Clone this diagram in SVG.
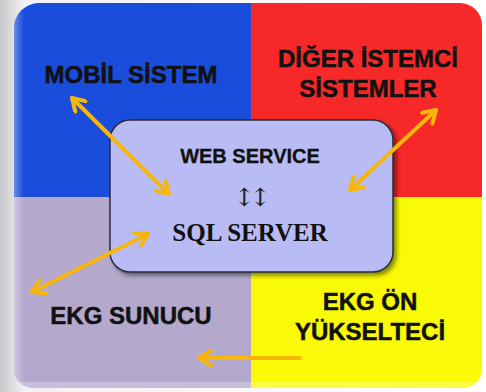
<svg xmlns="http://www.w3.org/2000/svg" width="486" height="392" viewBox="0 0 486 392">
  <style>
    .lbl { font-family: "Liberation Sans", Arial, sans-serif; font-weight: bold; font-size: 24px; fill: #111; stroke: #111; stroke-width: 0.5; text-anchor: middle; }
    .ctr { font-family: "Liberation Sans", Arial, sans-serif; font-weight: bold; font-size: 20px; fill: #111; stroke: #111; stroke-width: 0.3; text-anchor: middle; }
    .srv { font-family: "Liberation Serif", "Times New Roman", serif; font-weight: bold; font-size: 25px; fill: #111; text-anchor: middle; }
    .arr { font-family: "DejaVu Serif", serif; font-size: 25px; fill: #222; text-anchor: middle; }
    .conn { stroke: #f7b60c; stroke-width: 4; fill: none; stroke-linecap: round; }
  </style>
  <defs>
    <clipPath id="outer">
      <path d="M14,28 A25,25 0 0 1 39,3 L460,3 A22,22 0 0 1 482,25 L482,369 A19,19 0 0 1 463,388 L33,388 A19,19 0 0 1 14,369 Z"/>
    </clipPath>
    <linearGradient id="bg" x1="0" y1="0" x2="1" y2="0">
      <stop offset="0" stop-color="#c8c8cc"/>
      <stop offset="0.05" stop-color="#f2f2f4"/>
      <stop offset="1" stop-color="#ffffff"/>
    </linearGradient>
    <linearGradient id="edgeL" x1="0" y1="0" x2="1" y2="0">
      <stop offset="0" stop-color="#ffffff" stop-opacity="0.35"/>
      <stop offset="1" stop-color="#ffffff" stop-opacity="0"/>
    </linearGradient>
    <filter id="shadow" x="-10%" y="-10%" width="125%" height="130%">
      <feDropShadow dx="3" dy="3" stdDeviation="2" flood-color="#000" flood-opacity="0.45"/>
    </filter>
    <marker id="head" viewBox="0 0 18 18" refX="14" refY="9" markerWidth="18" markerHeight="18" markerUnits="userSpaceOnUse" orient="auto-start-reverse">
      <path d="M2,1.5 L14,9 L2,16.5" fill="none" stroke="#f7b60c" stroke-width="4" stroke-linecap="round" stroke-linejoin="round"/>
    </marker>
  </defs>

  <rect x="0" y="0" width="486" height="392" fill="url(#bg)"/>

  <g clip-path="url(#outer)">
    <rect x="14" y="3" width="237" height="194" fill="#1a4ddc"/>
    <rect x="251" y="3" width="231" height="194" fill="#f72828"/>
    <rect x="14" y="197" width="237" height="191" fill="#b4a9cc"/>
    <rect x="251" y="197" width="231" height="191" fill="#fafa06"/>
    <rect x="14" y="3" width="10" height="385" fill="url(#edgeL)"/>
    <rect x="14" y="382" width="468" height="6" fill="#ffffff" opacity="0.25"/>
  </g>

  <g id="mobil-sistem">
    <text class="lbl" x="131" y="83">MOBİL SİSTEM</text>
  </g>
  <g id="diger-istemci-sistemler">
    <text class="lbl" x="368" y="67">DİĞER İSTEMCİ</text>
    <text class="lbl" x="368" y="97">SİSTEMLER</text>
  </g>
  <g id="ekg-sunucu">
    <text class="lbl" x="131" y="324">EKG SUNUCU</text>
  </g>
  <g id="ekg-on-yukselteci">
    <text class="lbl" x="370" y="310">EKG ÖN</text>
    <text class="lbl" x="370" y="340">YÜKSELTECİ</text>
  </g>

  <g id="web-service-sql-server">
    <rect x="110" y="120" width="283" height="152" rx="20" ry="20" fill="#b9bcf4" stroke="#2a2a3a" stroke-width="1.5" filter="url(#shadow)"/>
    <text class="ctr" x="250" y="163">WEB SERVICE</text>
    <text class="arr" x="250" y="206" letter-spacing="-5">↕↕</text>
    <text class="srv" x="250" y="241">SQL SERVER</text>
  </g>

  <g id="connectors">
    <line class="conn" x1="72" y1="98" x2="169" y2="194" marker-start="url(#head)" marker-end="url(#head)"/>
    <line class="conn" x1="436" y1="110" x2="350" y2="190" marker-start="url(#head)" marker-end="url(#head)"/>
    <line class="conn" x1="32" y1="292" x2="148" y2="234" marker-start="url(#head)" marker-end="url(#head)"/>
    <line class="conn" x1="300" y1="358" x2="199" y2="358" marker-end="url(#head)"/>
  </g>
</svg>
